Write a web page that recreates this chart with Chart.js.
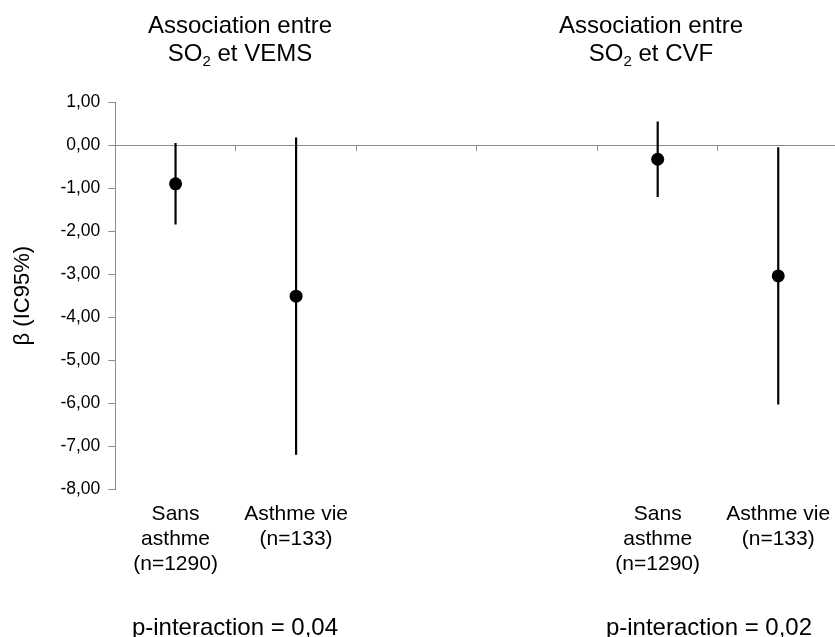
<!DOCTYPE html>
<html>
<head>
<meta charset="utf-8">
<script src="https://cdn.jsdelivr.net/npm/chart.js@4"></script>
<style>
  html, body { margin: 0; background: #fff; overflow: hidden; }
</style>
</head>
<body>
<canvas id="betaChart" width="845" height="637"></canvas>
<script>
let categories = [
  ['Sans', 'asthme', '(n=1290)'],
  ['Asthme vie', '(n=133)'],
  '',
  '',
  ['Sans', 'asthme', '(n=1290)'],
  ['Asthme vie', '(n=133)'],
];

// beta estimate and 95% CI, VEMS first then CVF
let beta = [-0.9, -3.51, null, null, -0.33, -3.04];
let ciLow = [-1.84, -7.19, null, null, -1.2, -6.02];
let ciHigh = [0.04, 0.17, null, null, 0.54, -0.06];

let groupTitles = [
  ['Association entre', 'SO', '2', ' et VEMS'],
  ['Association entre', 'SO', '2', ' et CVF'],
];
let pInteraction = ['p-interaction = 0,04', 'p-interaction = 0,02'];

let fontFamily = '"Liberation Sans", Arial, sans-serif';
let axisGray = '#8c8c8c';

Chart.defaults.font.family = fontFamily;
Chart.defaults.color = '#000';

let ciBars = categories.map((c, i) =>
  ciLow[i] === null ? null : [ciLow[i], ciHigh[i]]
);

let textPlugin = {
  id: 'groupText',
  afterDraw: (chart) => {
    let ctx = chart.ctx;
    ctx.save();
    ctx.fillStyle = '#000';
    ctx.textBaseline = 'alphabetic';
    let centers = [240, 651];
    groupTitles.forEach((t, i) => {
      let cx = centers[i];
      ctx.font = '24px ' + fontFamily;
      ctx.textAlign = 'center';
      ctx.fillText(t[0], cx, 33);

      // second line with subscript
      ctx.textAlign = 'left';
      let w1 = ctx.measureText(t[1]).width;
      let w3 = ctx.measureText(t[3]).width;
      ctx.font = '15px ' + fontFamily;
      let w2 = ctx.measureText(t[2]).width;
      let x = cx - (w1 + w2 + w3) / 2;
      ctx.font = '24px ' + fontFamily;
      ctx.fillText(t[1], x, 61);
      ctx.font = '15px ' + fontFamily;
      ctx.fillText(t[2], x + w1, 66);
      ctx.font = '24px ' + fontFamily;
      ctx.fillText(t[3], x + w1 + w2, 61);
    });

    let pCenters = [235, 709];
    ctx.font = '24px ' + fontFamily;
    ctx.textAlign = 'center';
    pInteraction.forEach((t, i) => {
      ctx.fillText(t, pCenters[i], 635);
    });
    ctx.restore();
  },
};

let ctx = document.getElementById('betaChart').getContext('2d');

new Chart(ctx, {
  type: 'bar',
  data: {
    labels: categories,
    datasets: [
      {
        type: 'line',
        label: 'beta',
        data: beta,
        showLine: false,
        pointRadius: 6.5,
        pointBackgroundColor: '#000',
        pointBorderColor: '#000',
        pointBorderWidth: 0,
        order: 0,
      },
      {
        label: 'IC95%',
        data: ciBars,
        backgroundColor: '#000',
        borderWidth: 0,
        barThickness: 1.5,
        order: 1,
      },
    ],
  },
  options: {
    responsive: false,
    animation: false,
    layout: {
      padding: { top: 102, left: 0, right: 0, bottom: 60 },
    },
    plugins: {
      legend: { display: false },
      tooltip: { enabled: false },
    },
    scales: {
      x: {
        position: 'bottom',
        offset: true,
        grid: { display: false, drawTicks: true, tickLength: 12 },
        border: { display: false },
        ticks: {
          autoSkip: false,
          maxRotation: 0,
          padding: 0,
          font: { size: 21, lineHeight: 1.2 },
        },
      },
      x2: {
        type: 'category',
        position: { y: 0 },
        offset: true,
        grid: {
          display: true,
          offset: true,
          drawOnChartArea: false,
          drawTicks: true,
          tickLength: 5,
          color: axisGray,
        },
        border: { display: true, color: axisGray, width: 1 },
        ticks: { display: false },
      },
      y: {
        min: -8,
        max: 1,
        grid: {
          drawOnChartArea: false,
          drawTicks: true,
          tickLength: 7,
          color: axisGray,
        },
        border: { display: true, color: axisGray, width: 1 },
        ticks: {
          stepSize: 1,
          padding: 8,
          font: { size: 17.5 },
          callback: (v) => v.toFixed(2).replace('.', ','),
        },
        title: {
          display: true,
          text: 'β (IC95%)',
          font: { size: 22 },
          padding: { top: 10, bottom: 16 },
        },
      },
    },
  },
  plugins: [textPlugin],
});
</script>
</body>
</html>
